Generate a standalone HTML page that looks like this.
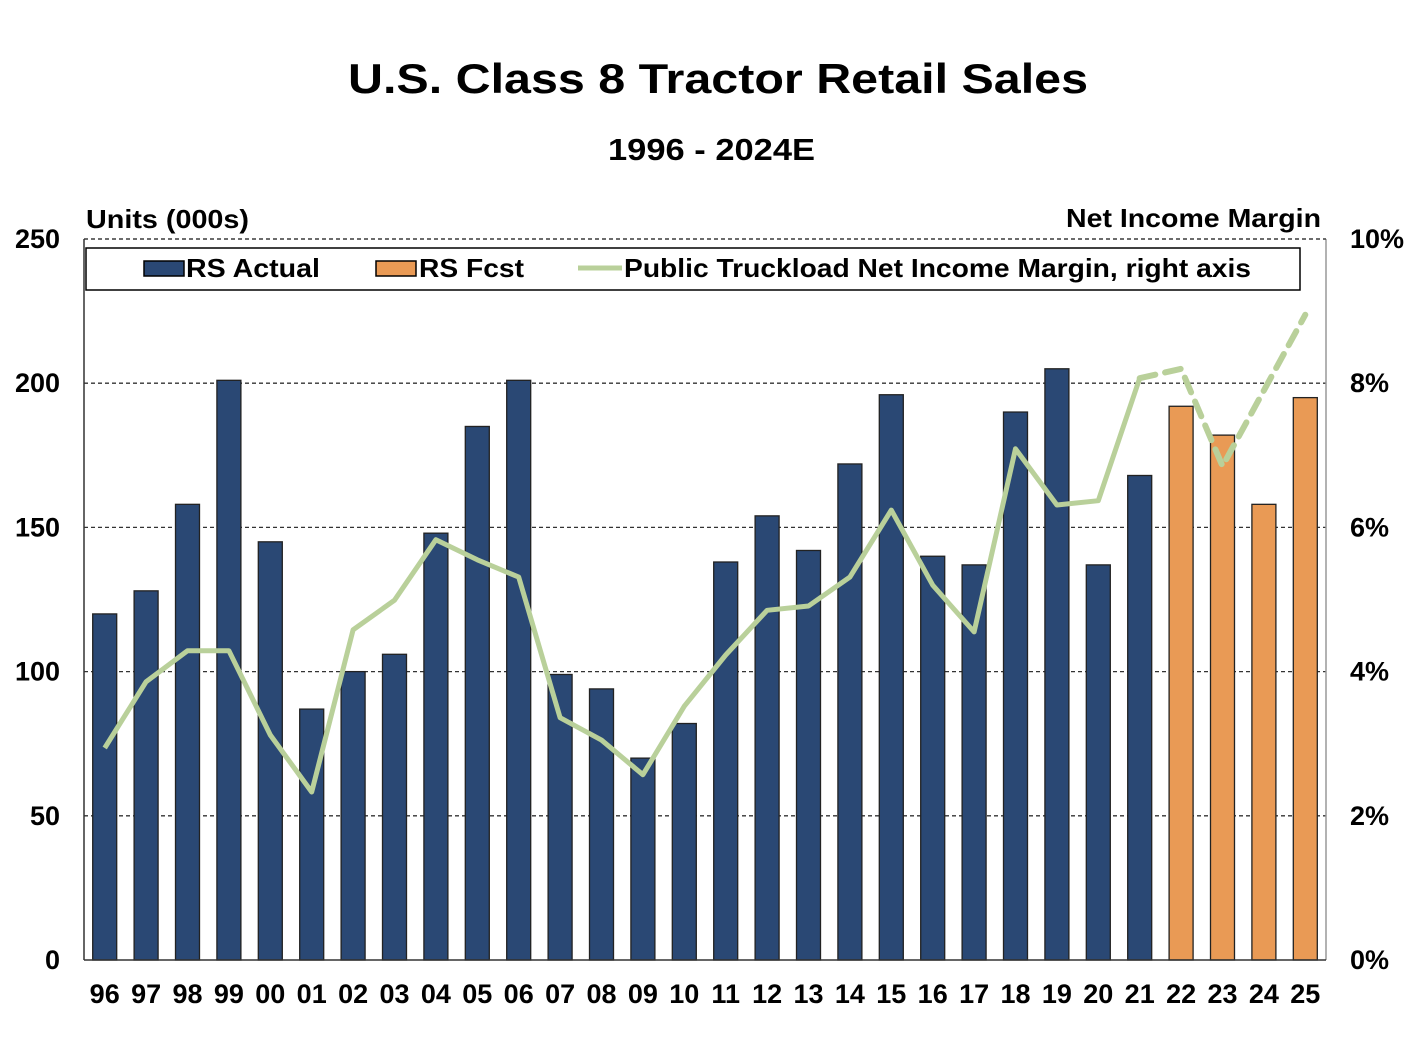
<!DOCTYPE html>
<html><head><meta charset="utf-8"><style>
body{margin:0;background:#fff;}
svg text{font-family:"Liberation Sans",Arial,sans-serif;font-weight:bold;fill:#000;}
</style></head><body>
<svg id="chart" width="1425" height="1039" xmlns="http://www.w3.org/2000/svg">
<text x="348" y="93" font-size="42" textLength="740" lengthAdjust="spacingAndGlyphs">U.S. Class 8 Tractor Retail Sales</text>
<text x="608" y="160" font-size="31" textLength="207" lengthAdjust="spacingAndGlyphs">1996 - 2024E</text>
<text x="86" y="228" font-size="26" textLength="163" lengthAdjust="spacingAndGlyphs">Units (000s)</text>
<text x="1066" y="227" font-size="26" textLength="255" lengthAdjust="spacingAndGlyphs">Net Income Margin</text>
<g id="grid"></g><g id="bars"></g><g id="line"></g><g id="axes"></g>
<g>
<rect x="86" y="248" width="1214" height="42" fill="#fff" stroke="#000" stroke-width="1.5"/>
<rect x="144" y="261" width="40" height="15" fill="#2a4874" stroke="#000" stroke-width="1.5"/>
<text x="186" y="277" font-size="26" textLength="134" lengthAdjust="spacingAndGlyphs">RS Actual</text>
<rect x="376" y="261" width="40" height="15" fill="#e99a55" stroke="#000" stroke-width="1.5"/>
<text x="419" y="277" font-size="26" textLength="105" lengthAdjust="spacingAndGlyphs">RS Fcst</text>
<line x1="578" y1="268" x2="622" y2="268" stroke="#b9d09a" stroke-width="5"/>
<text x="624" y="277" font-size="26" textLength="627" lengthAdjust="spacingAndGlyphs">Public Truckload Net Income Margin, right axis</text>
</g>
</svg>
<script>
const categories=["96","97","98","99","00","01","02","03","04","05","06","07","08","09","10","11","12","13","14","15","16","17","18","19","20","21","22","23","24","25"];
const salesValues=[120,128,158,201,145,87,100,106,148,185,201,99,94,70,82,138,154,142,172,196,140,137,190,205,137,168,192,182,158,195];
const isForecast=[0,0,0,0,0,0,0,0,0,0,0,0,0,0,0,0,0,0,0,0,0,0,0,0,0,0,1,1,1,1];
const marginValues=[2.94,3.86,4.29,4.29,3.12,2.33,4.58,4.99,5.83,5.55,5.31,3.36,3.05,2.57,3.52,4.23,4.85,4.91,5.31,6.24,5.2,4.55,7.09,6.31,6.37,8.07,8.2,6.85,7.9,8.95];
const leftTicks=[0,50,100,150,200,250];
const rightTicks=["0%","2%","4%","6%","8%","10%"];
const NS="http://www.w3.org/2000/svg";
const X0=84,X1=1326,Y0=960,Y1=239;
const step=(X1-X0)/categories.length;
const xc=i=>X0+step*(i+0.5);
const yL=v=>Y0-(v/250)*(Y0-Y1);
const yR=v=>Y0-(v/10)*(Y0-Y1);
function mk(tag,attrs,parent){const e=document.createElementNS(NS,tag);for(const k in attrs)e.setAttribute(k,attrs[k]);parent.appendChild(e);return e;}
const grid=document.getElementById('grid'),bars=document.getElementById('bars'),line=document.getElementById('line'),axes=document.getElementById('axes');
leftTicks.forEach((t,i)=>{
 if(t>0){const g=mk('line',{x1:X0,x2:X1,y1:yL(t),y2:yL(t),stroke:'#333','stroke-width':1.3,'stroke-dasharray':'4,3'},grid);
 
 }
 const lt=mk('text',{x:60,y:yL(t)+9,'font-size':27,'text-anchor':'end'},axes);lt.textContent=t;
 
 
 const rt=mk('text',{x:1350,y:yR(i*2)+9,'font-size':27},axes);rt.textContent=rightTicks[i];
 
 
});
const bw=24;
salesValues.forEach((v,i)=>{
 const r=mk('rect',{x:xc(i)-bw/2,y:yL(v),width:bw,height:Y0-yL(v),fill:isForecast[i]?'#e99a55':'#2a4874',stroke:'#222','stroke-width':1.3},bars);
 
 
 const t=mk('text',{x:xc(i),y:1003,'font-size':27,'text-anchor':'middle'},axes);t.textContent=categories[i];
 
 
});
const lastActual=isForecast.indexOf(1)-1;
let p1='',p2='';
marginValues.forEach((v,i)=>{const pt=xc(i).toFixed(1)+','+yR(v).toFixed(1);if(i<=lastActual)p1+=(p1?' L':'M')+pt;if(i>=lastActual)p2+=(p2?' L':'M')+pt;});
const l1=mk('path',{d:p1,fill:'none',stroke:'#b9d09a','stroke-width':5,'stroke-linejoin':'round'},line);


const l2=mk('path',{d:p2,fill:'none',stroke:'#b9d09a','stroke-width':6,'stroke-dasharray':'16,10','stroke-linecap':'round'},line);


const la=mk('line',{x1:X0,x2:X0,y1:Y1,y2:Y0,stroke:'#333','stroke-width':1.5},axes);


const ra=mk('line',{x1:X1,x2:X1,y1:Y1,y2:Y0,stroke:'#999','stroke-width':1.5},axes);


const ba=mk('line',{x1:X0,x2:X1,y1:Y0,y2:Y0,stroke:'#333','stroke-width':1.5},axes);


const ta=mk('line',{x1:X0,x2:X1,y1:Y1,y2:Y1,stroke:'#333','stroke-width':1.3,'stroke-dasharray':'4,3'},axes);


</script>
</body></html>
